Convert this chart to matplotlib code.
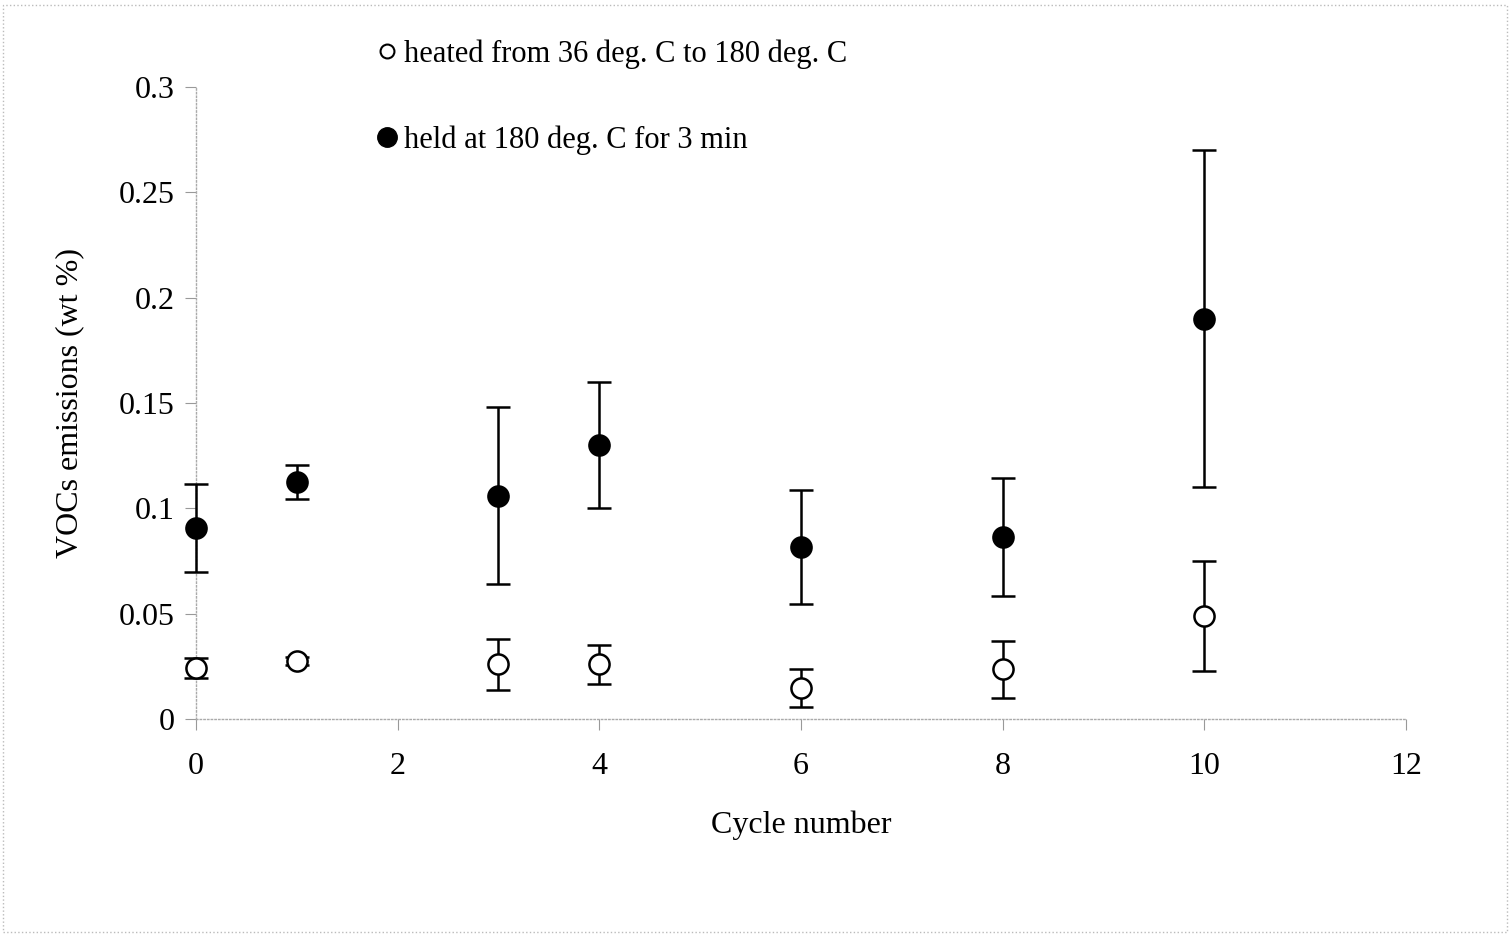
import matplotlib
matplotlib.use("Agg")
import matplotlib.pyplot as plt
from matplotlib.lines import Line2D
from matplotlib.patches import Rectangle

plt.rcParams['font.family'] = ['Liberation Serif', 'DejaVu Serif']

# cycle number
cycles = [0, 1, 3, 4, 6, 8, 10]
# heated from 36 to 180 deg C (open circles)
heated = [0.0242, 0.0275, 0.026, 0.026, 0.0147, 0.0237, 0.049]
heated_err = [0.0048, 0.002, 0.012, 0.0093, 0.009, 0.0135, 0.026]
# held at 180 deg C for 3 min (filled circles)
held = [0.0907, 0.1125, 0.1059, 0.130, 0.0816, 0.0864, 0.190]
held_err = [0.021, 0.0083, 0.042, 0.030, 0.027, 0.028, 0.080]

xticks = [0, 2, 4, 6, 8, 10, 12]
yticks = [0, 0.05, 0.1, 0.15, 0.2, 0.25, 0.3]
yticklabels = ['0', '0.05', '0.1', '0.15', '0.2', '0.25', '0.3']

fig = plt.figure(figsize=(15.1, 9.35), dpi=100)
ax = fig.add_axes([0.1298, 0.231, 0.8012, 0.676])

for ys, es, face in [(held, held_err, 'black'), (heated, heated_err, 'white')]:
    cont = ax.errorbar(cycles, ys, yerr=es, fmt='o', color='black', ms=14.5,
                       mfc=face, mec='black', mew=1.8, ecolor='black', elinewidth=1.8,
                       capsize=8.3, capthick=1.8, zorder=3)
    for art in cont.get_children():
        art.set_clip_on(False)

ax.set_xlim(0, 12)
ax.set_ylim(0, 0.3)
ax.set_xticks(xticks)
ax.set_yticks(yticks)
ax.set_yticklabels(yticklabels)
ax.tick_params(axis='both', labelsize=23, color='#999999', length=8, width=0.8)
ax.tick_params(axis='y', pad=7.5)
ax.tick_params(axis='x', pad=16)

for s in ['top', 'right']:
    ax.spines[s].set_visible(False)
for s in ['left', 'bottom']:
    ax.spines[s].set_color('#aaaaaa')
    ax.spines[s].set_linestyle(':')
    ax.spines[s].set_linewidth(1.0)

ax.set_xlabel('Cycle number', fontsize=23, labelpad=21)
ax.set_ylabel('VOCs emissions (wt %)', fontsize=23, labelpad=25)

handles = [
    Line2D([], [], ls='none', marker='o', ms=10, mfc='white', mec='black', mew=1.5),
    Line2D([], [], ls='none', marker='o', ms=14, mfc='black', mec='black'),
]
labels = ['heated from 36 deg. C to 180 deg. C', 'held at 180 deg. C for 3 min']
fig.legend(handles, labels, loc='upper left', bbox_to_anchor=(0.232, 0.987),
           frameon=False, fontsize=22, handlelength=0.6, handletextpad=0.25,
           labelspacing=1.85)

# dotted frame around the whole figure
fig.patches.append(Rectangle((0.002, 0.003), 0.996, 0.992, transform=fig.transFigure,
                             fill=False, ec='#bbbbbb', ls=':', lw=1.0))

fig.savefig('out.png', dpi=100)
